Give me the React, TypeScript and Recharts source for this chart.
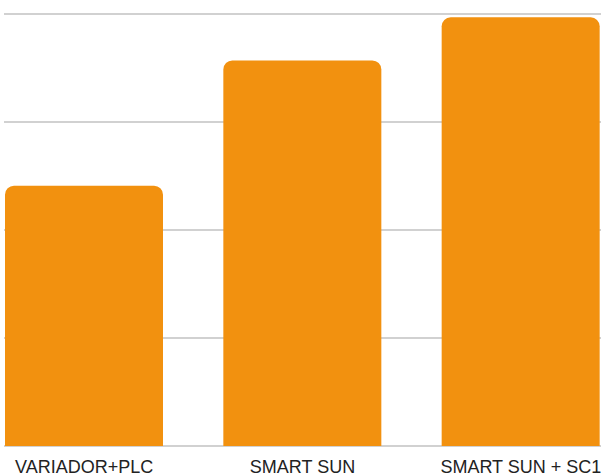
import { BarChart, Bar, XAxis, YAxis, CartesianGrid } from "recharts";

const categories = ["VARIADOR+PLC", "SMART SUN", "SMART SUN + SC1"];
const values = [2.41, 3.57, 3.97];
const yTicks = [0, 1, 2, 3, 4];

const data = categories.map((name, i) => ({ name, value: values[i] }));

export default function App() {
  return (
    <div style={{ position: "absolute", left: 0, top: 0, background: "#fff" }}>
      <BarChart
        width={609}
        height={476}
        data={data}
        margin={{ top: 14, right: 8, bottom: 0, left: 4 }}
      >
        <CartesianGrid vertical={false} stroke="#c2c2c2" strokeWidth={1.6} />
        <XAxis
          dataKey="name"
          axisLine={false}
          tickLine={false}
          tickSize={0}
          tickMargin={14}
          height={30}
          padding={{ left: -29, right: -29 }}
          interval={0}
          tick={{ fill: "#222", fontSize: 18, fontFamily: "Liberation Sans, Arial, sans-serif" }}
        />
        <YAxis hide domain={[0, 4]} ticks={yTicks} />
        <Bar dataKey="value" fill="#f2910f" barSize={158} radius={[9, 9, 0, 0]} isAnimationActive={false} />
      </BarChart>
    </div>
  );
}
